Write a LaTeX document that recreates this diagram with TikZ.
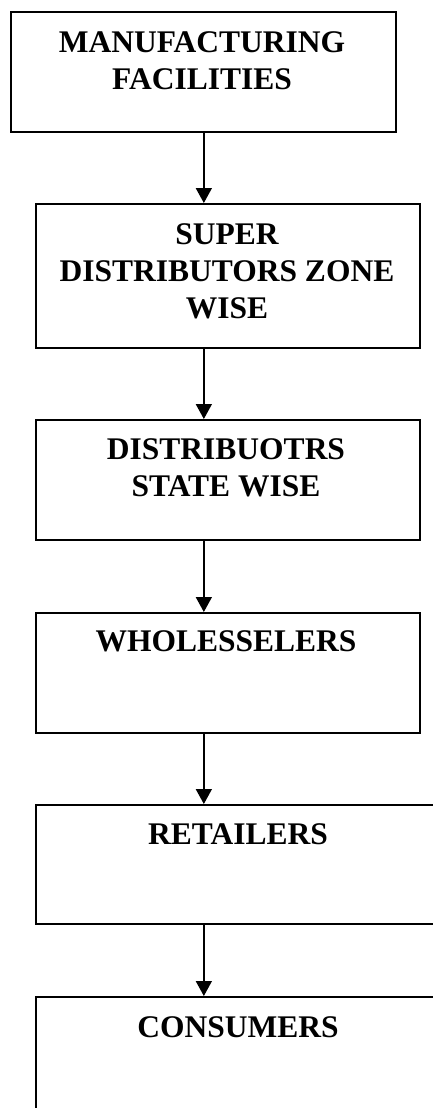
\documentclass[tikz,border=0pt]{standalone}
\usepackage{fontspec}
\setmainfont{Liberation Serif}
\usetikzlibrary{arrows.meta}
\begin{document}
\begin{tikzpicture}[x=1pt,y=-1pt,
  stage/.style={draw=black,line width=1.7pt},
  label/.style={anchor=north,inner sep=0pt,align=center,
    font=\fontsize{31.5}{37}\selectfont\bfseries},
  flow/.style={draw=black,line width=1.6pt,-{Triangle[length=15pt,width=16pt]}}]
\useasboundingbox (0,0) rectangle (433,1108);
% stages of the distribution chain
\node[stage,minimum width=385pt,minimum height=120pt,anchor=north west] (b1) at (10,11) {};
\node[stage,minimum width=384pt,minimum height=144pt,anchor=north west] (b2) at (35,203) {};
\node[stage,minimum width=384pt,minimum height=120pt,anchor=north west] (b3) at (35,419) {};
\node[stage,minimum width=384pt,minimum height=120pt,anchor=north west] (b4) at (35,612) {};
\node[stage,minimum width=406pt,minimum height=119pt,anchor=north west] (b5) at (35,804) {};
\node[stage,minimum width=406pt,minimum height=119pt,anchor=north west] (b6) at (35,996) {};
% captions (top of capitals = baseline - cap height)
\node[label] (t1) at (202,31) {MANUFACTURING\\FACILITIES};
\node[label] (t2) at (227,223) {SUPER\\DISTRIBUTORS ZONE\\WISE};
\node[label] (t3) at (226,438) {DISTRIBUOTRS\\STATE WISE};
\node[label] (t4) at (226,630) {WHOLESSELERS};
\node[label] (t5) at (238,823) {RETAILERS};
\node[label] (t6) at (238,1016) {CONSUMERS};
% connectors
\draw[flow] ([xshift=0.5pt]b1.south) -- ([xshift=0.5pt]b1.south |- b2.north);
\draw[flow] ([xshift=0.5pt]b1.south |- b2.south) -- ([xshift=0.5pt]b1.south |- b3.north);
\draw[flow] ([xshift=0.5pt]b1.south |- b3.south) -- ([xshift=0.5pt]b1.south |- b4.north);
\draw[flow] ([xshift=0.5pt]b1.south |- b4.south) -- ([xshift=0.5pt]b1.south |- b5.north);
\draw[flow] ([xshift=0.5pt]b1.south |- b5.south) -- ([xshift=0.5pt]b1.south |- b6.north);
\end{tikzpicture}
\end{document}
